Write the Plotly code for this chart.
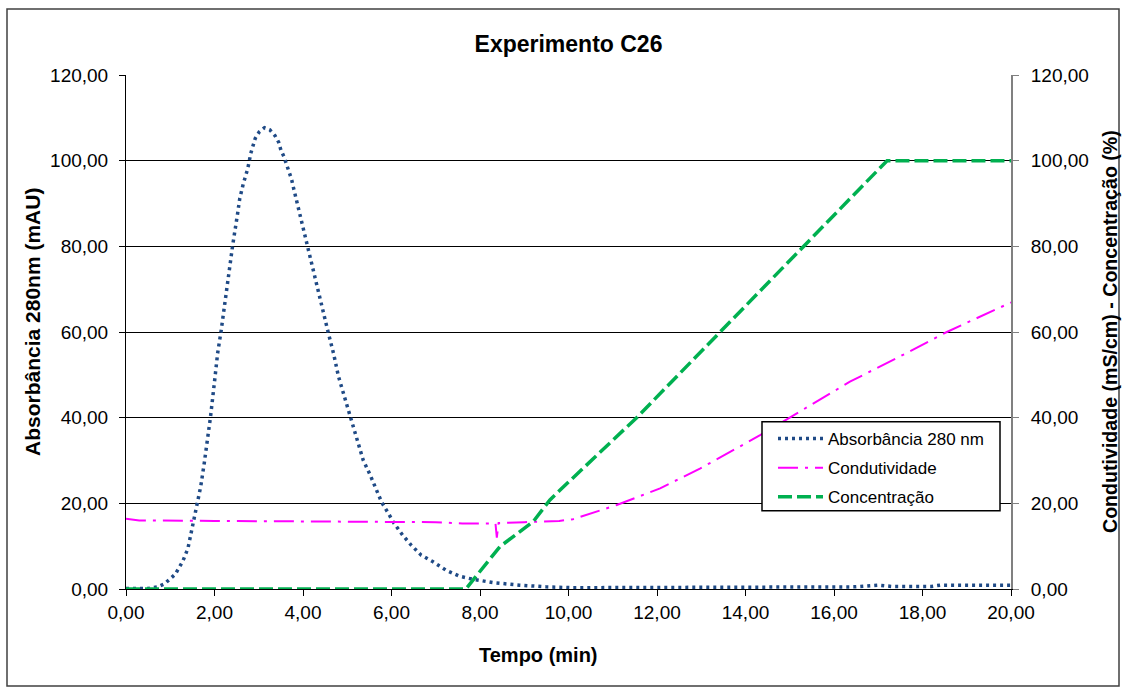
import plotly.graph_objects as go

# ---- data ----
abs_t = [0.0, 0.5, 0.72, 0.87, 1.11, 1.28, 1.40, 1.51, 1.58, 1.62, 1.69, 1.77, 1.84, 1.91,
         2.01, 2.07, 2.15, 2.24, 2.31, 2.41, 2.52, 2.57, 2.65, 2.70, 2.75, 2.82, 2.87, 2.92,
         3.01, 3.13, 3.25, 3.37, 3.45, 3.50, 3.57, 3.63, 3.68, 3.74, 3.78, 3.86, 3.95, 4.03,
         4.10, 4.22, 4.36, 4.47, 4.56, 4.69, 4.80, 4.91, 5.06, 5.21, 5.36, 5.51, 5.64, 5.78,
         5.95, 6.06, 6.25, 6.44, 6.67, 6.93, 7.23, 7.53, 7.83, 8.29, 8.89, 9.49, 10.1, 12.0,
         14.0, 15.0, 16.5, 17.0, 17.3, 18.2, 18.4, 20.0]
abs_v = [0.1, 0.1, 0.5, 1.2, 3.4, 6.4, 9.5, 15.3, 18.8, 20.4, 24.0, 29.5, 34.8, 40.2,
         49.3, 55.0, 60.3, 67.5, 72.9, 80.2, 87.5, 91.1, 94.6, 96.4, 98.1, 101.7, 103.5, 105.2,
         106.7, 107.7, 107.2, 105.8, 104.3, 102.5, 100.9, 99.2, 97.4, 95.7, 93.9, 90.4, 86.9, 83.4,
         79.8, 74.5, 69.2, 63.8, 60.3, 55.0, 49.7, 45.8, 40.5, 35.6, 30.1, 26.8, 23.5, 20.2,
         17.3, 15.3, 12.6, 10.3, 7.9, 6.4, 4.4, 3.0, 2.3, 1.5, 0.9, 0.5, 0.3, 0.3,
         0.3, 0.4, 0.5, 0.9, 0.6, 0.6, 0.9, 0.9]

cond_t = [0.0, 0.3, 2.0, 5.0, 7.0, 7.6, 8.35, 8.38, 8.42, 9.0, 9.79, 10.1, 11.09, 12.07,
          12.97, 14.33, 15.0, 16.36, 17.49, 18.55, 19.22, 19.9, 20.0]
cond_v = [16.4, 16.0, 15.9, 15.7, 15.6, 15.3, 15.3, 12.0, 15.4, 15.6, 15.9, 16.3, 19.6, 23.5,
          28.1, 35.9, 40.0, 48.4, 54.3, 60.0, 63.2, 66.5, 66.9]

conc_t = [0.0, 7.68, 8.45, 9.0, 9.2, 9.58, 9.81, 11.54, 13.42, 15.3, 17.2, 20.0]
conc_v = [0.0, 0.0, 9.9, 14.0, 15.7, 20.8, 23.1, 40.0, 60.0, 80.0, 100.0, 100.0]

names = ["Absorbância 280 nm", "Condutividade", "Concentração"]
x_ticks = [0, 2, 4, 6, 8, 10, 12, 14, 16, 18, 20]
y_ticks = [0, 20, 40, 60, 80, 100, 120]

FONT = "Arial, Liberation Sans, sans-serif"

fig = go.Figure()
fig.add_trace(go.Scatter(x=abs_t, y=abs_v, name=names[0], mode="lines", legendgroup="a",
                         line=dict(color="#1F4A86", width=3.5, dash="3px,4px")))
fig.add_trace(go.Scatter(x=cond_t, y=cond_v, name=names[1], mode="lines", legendgroup="b",
                         yaxis="y2", line=dict(color="#FF00FF", width=2, dash="20px,7px,3px,7px")))
fig.add_trace(go.Scatter(x=conc_t, y=conc_v, name=names[2], mode="lines", legendgroup="c",
                         yaxis="y2", line=dict(color="#00B050", width=3.5, dash="14px,5px")))

W, H = 1126, 691
L, R, T, B = 126, 1011, 75, 589

def px(xp):
    return (xp - L) / (R - L)

def py(yp):
    return (B - yp) / (B - T)

fig.update_layout(
    width=W, height=H,
    margin=dict(l=L, r=W - R, t=T, b=H - B),
    paper_bgcolor="white", plot_bgcolor="white",
    separators=",.",
    font=dict(family=FONT, size=19, color="black"),
    title=dict(text="<b>Experimento C26</b>", x=px(568.5), xref="paper", xanchor="center",
               y=1 - 44 / H, yref="container", yanchor="middle",
               font=dict(size=23, family=FONT, color="black")),
    xaxis=dict(range=[0, 20], tickvals=x_ticks, tickformat=".2f", showgrid=False,
               showline=True, linecolor="black", linewidth=1, ticks="outside", ticklen=6,
               tickcolor="black", zeroline=False),
    yaxis=dict(range=[0, 120], tickvals=y_ticks, tickformat=".2f", showgrid=True,
               gridcolor="black", gridwidth=1, showline=True, linecolor="black", linewidth=1,
               ticks="outside", ticklen=6, tickcolor="black", zeroline=False,
               ticklabelstandoff=7),
    yaxis2=dict(range=[0, 120], tickvals=y_ticks, tickformat=".2f", overlaying="y", side="right",
                showgrid=False, showline=True, linecolor="#808080", linewidth=2,
                ticks="outside", ticklen=6, tickcolor="#808080", zeroline=False,
                ticklabelstandoff=8),
    legend=dict(x=px(773), y=py(421), xanchor="left", yanchor="top",
                bgcolor="rgba(0,0,0,0)", borderwidth=0, font=dict(size=17, family=FONT),
                tracegroupgap=4, itemwidth=45),
    showlegend=True,
)

# axis titles (placed like the original)
fig.add_annotation(text="<b>Tempo (min)</b>", xref="paper", yref="paper",
                   x=px(538), y=py(655), xanchor="center", yanchor="middle",
                   showarrow=False, font=dict(size=20, family=FONT, color="black"))
fig.add_annotation(text="<b>Absorbância 280nm (mAU)</b>", xref="paper", yref="paper",
                   x=px(32), y=py(322), xanchor="center", yanchor="middle", textangle=-90,
                   showarrow=False, font=dict(size=21, family=FONT, color="black"))
fig.add_annotation(text="<b>Condutividade (mS/cm) - Concentração (%)</b>", xref="paper",
                   yref="paper", x=px(1110), y=py(332), xanchor="center", yanchor="middle",
                   textangle=-90, showarrow=False,
                   font=dict(size=19.6, family=FONT, color="black"))

# legend box
fig.add_shape(type="rect", xref="paper", yref="paper", layer="above",
              x0=px(762), x1=px(1000), y0=py(510.7), y1=py(421.7),
              fillcolor="white", line=dict(color="black", width=1.5))
# outer chart border
fig.add_shape(type="rect", xref="paper", yref="paper", layer="below",
              x0=px(7), x1=px(1119), y0=py(686), y1=py(9),
              fillcolor="rgba(0,0,0,0)", line=dict(color="#404040", width=1.5))

fig.write_html("out.html")
